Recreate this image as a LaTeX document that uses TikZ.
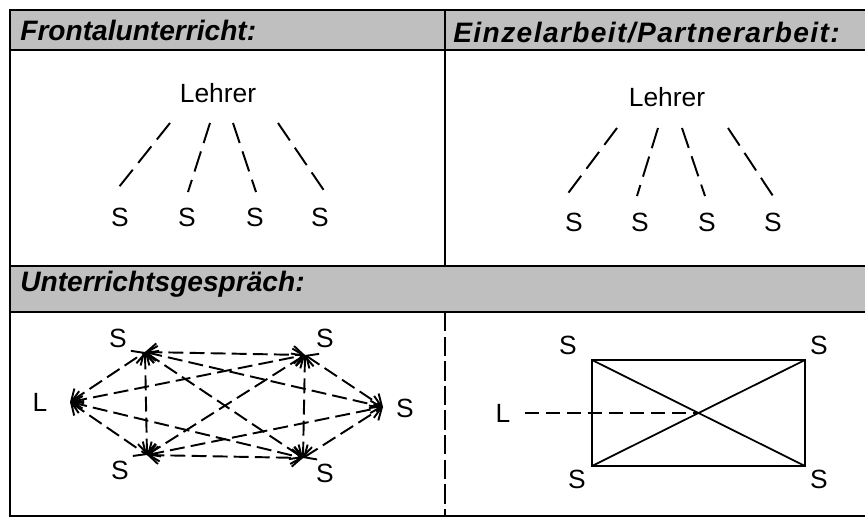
\documentclass[tikz,border=0pt]{standalone}
\usepackage{fontspec}
\setmainfont{Liberation Sans}
\usepackage{tikz}
\usetikzlibrary{positioning, arrows.meta, calc}

\begin{document}
\begin{tikzpicture}[x=0.02cm, y=-0.02cm,
    titre/.style={anchor=base west, inner sep=0pt, font=\fontsize{16}{18}\selectfont\bfseries\itshape},
    lbl/.style={inner sep=1pt, font=\fontsize{15}{17}\selectfont},
    trait/.style={line width=1pt},
    lien/.style={line width=1.1pt, dash pattern=on 12pt off 5pt},
    echange/.style={line width=1.1pt, dash pattern=on 8.5pt off 3.5pt,
        {Straight Barb[length=5.5pt,width=10pt]}-{Straight Barb[length=5.5pt,width=10pt]}}]

    \useasboundingbox (0,0) rectangle (865,521);

    % Cadre
    \fill[black!25] (10,10) rectangle (865,50);
    \fill[black!25] (10,266) rectangle (865,312);
    \draw[trait] (865,10) -- (10,10) -- (10,516) -- (865,516);
    \draw[trait] (10,50) -- (865,50);
    \draw[trait] (10,266) -- (865,266);
    \draw[trait] (10,312) -- (865,312);
    \draw[trait] (445,10) -- (445,266);
    \draw[line width=0.9pt, dash pattern=on 11pt off 3pt] (445,312) -- (445,516);

    % Titres
    \node[titre] (titreA) at (20,40) {Frontalunterricht:};
    \node[titre] (titreB) at (453,42) {\addfontfeatures{LetterSpace=5}Einzelarbeit/Partnerarbeit:};
    \node[titre] (titreC) at (20,291) {Unterrichtsgespräch:};

    % Frontalunterricht
    \node[lbl] (lehrerA) at (218,93) {Lehrer};
    \node[lbl] (sA1) at (120,217) {S};
    \node[lbl] (sA2) at (187,217) {S};
    \node[lbl] (sA3) at (255,217) {S};
    \node[lbl] (sA4) at (320,217) {S};
    \foreach \s/\a/\b in {sA1/-48/-5, sA2/-8/1, sA3/15/1, sA4/60/5}
        \draw[lien] ($(lehrerA)+(\a,30)$) -- ($(\s)+(\b,-25)$);

    % Einzelarbeit/Partnerarbeit
    \node[lbl] (lehrerB) at (667,97) {Lehrer};
    \node[lbl] (sB1) at (574,222) {S};
    \node[lbl] (sB2) at (640,222) {S};
    \node[lbl] (sB3) at (707,222) {S};
    \node[lbl] (sB4) at (773,222) {S};
    \foreach \s/\a/\b in {sB1/-50/-8, sB2/-9/-3, sB3/15/-2, sB4/61/0}
        \draw[lien] ($(lehrerB)+(\a,31)$) -- ($(\s)+(\b,-26)$);

    % Unterrichtsgespraech
    \node[lbl] (lC) at (40,402) {L};
    \node[lbl] (sC1) at (118,338) {S};
    \node[lbl] (sC2) at (325,338) {S};
    \node[lbl] (sC3) at (405,408) {S};
    \node[lbl] (sC4) at (120,470) {S};
    \node[lbl] (sC5) at (325,473) {S};
    \coordinate (vL) at (70,402);
    \coordinate (vHG) at (145,352);
    \coordinate (vHD) at (305,355);
    \coordinate (vD) at (383,407);
    \coordinate (vBG) at (147,455);
    \coordinate (vBD) at (303,458);
    \foreach \a/\b in {vL/vHG, vL/vBG, vL/vHD, vL/vBD, vHG/vHD, vHG/vBG, vHG/vBD,
        vHG/vD, vHD/vBG, vHD/vBD, vHD/vD, vBG/vBD, vBG/vD, vBD/vD}
        \draw[echange] (\a) -- (\b);

    % Gruppe
    \node[lbl] (lD) at (503,413) {L};
    \node[lbl] (sD1) at (568,345) {S};
    \node[lbl] (sD2) at (819,345) {S};
    \node[lbl] (sD3) at (577,479) {S};
    \node[lbl] (sD4) at (819,479) {S};
    \coordinate (rHG) at (592,360);
    \coordinate (rHD) at (805,360);
    \coordinate (rBD) at (805,466);
    \coordinate (rBG) at (592,466);
    \coordinate (rM) at ($(rHG)!0.5!(rBD)$);
    \draw[trait] (rHG) -- (rHD) -- (rBD) -- (rBG) -- cycle;
    \draw[trait] (rHG) -- (rBD);
    \draw[trait] (rHD) -- (rBG);
    \draw[line width=0.9pt, dash pattern=on 8pt off 4pt, shorten <=7pt] (lD.east) -- (rM);
\end{tikzpicture}
\end{document}
